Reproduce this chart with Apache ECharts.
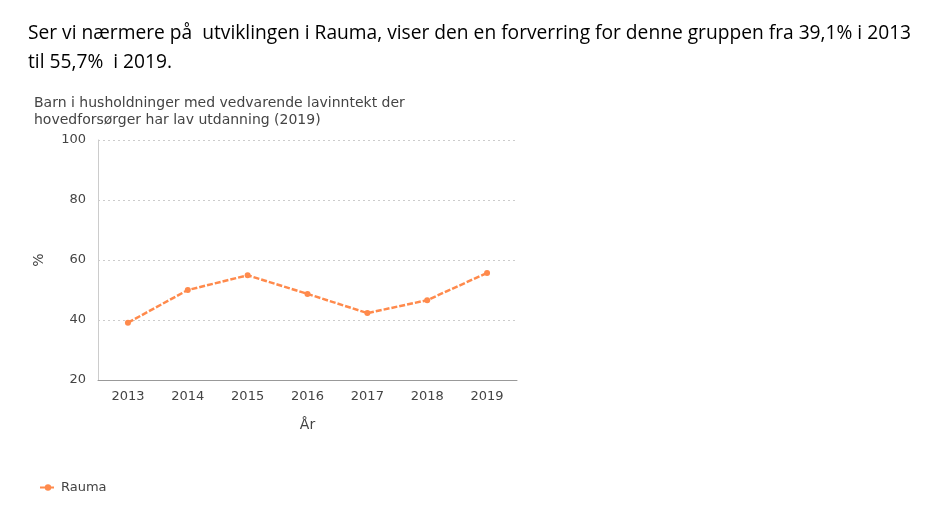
<!DOCTYPE html>
<html><head><meta charset="utf-8">
<script src="https://cdn.jsdelivr.net/npm/echarts@6/dist/echarts.min.js"></script>
<style>
body{margin:0;background:#fff;font-family:"Open Sans",sans-serif;}
#head{position:absolute;left:28px;top:17px;font-size:19.2px;line-height:29px;color:#000;}
#main{position:absolute;left:0;top:0;width:949px;height:520px;}
</style></head><body>
<div id="main"></div>
<div id="head">Ser vi nærmere på&nbsp; utviklingen i Rauma, viser den en forverring for denne gruppen fra 39,1% i 2013<br>til 55,7%&nbsp; i 2019.</div>
<script>
// data
var years = ['2013', '2014', '2015', '2016', '2017', '2018', '2019'];
var rauma = [39.1, 50.0, 54.9, 48.7, 42.3, 46.6, 55.7];

var chart = echarts.init(document.getElementById('main'));
var font = '"DejaVu Sans", sans-serif';
chart.setOption({
    animation: false,
    title: {
        text: 'Barn i husholdninger med vedvarende lavinntekt der\nhovedforsørger har lav utdanning (2019)',
        left: 29, top: 90,
        textStyle: {fontFamily: font, fontSize: 14, fontWeight: 'normal', color: '#444', lineHeight: 17}
    },
    legend: {
        left: 34, top: 476, itemWidth: 16, itemHeight: 8,
        textStyle: {fontFamily: font, fontSize: 13, color: '#444'},
        data: ['Rauma']
    },
    grid: {left: 98, top: 140, width: 419, height: 240},
    xAxis: {
        type: 'category', data: years, boundaryGap: true,
        name: 'År', nameLocation: 'middle', nameGap: 38,
        nameTextStyle: {fontFamily: font, fontSize: 14, color: '#444'},
        axisLine: {lineStyle: {color: '#999'}},
        axisTick: {show: false},
        axisLabel: {fontFamily: font, fontSize: 13, color: '#444', margin: 10}
    },
    yAxis: {
        type: 'value', min: 20, max: 100, interval: 20,
        name: '%', nameLocation: 'middle', nameGap: 52, nameRotate: 90,
        nameTextStyle: {fontFamily: font, fontSize: 14, color: '#444'},
        axisLine: {show: true, lineStyle: {color: '#ccc'}},
        axisLabel: {fontFamily: font, fontSize: 13, color: '#444', margin: 12},
        splitLine: {lineStyle: {color: '#ccc', type: [2, 3]}}
    },
    series: [{
        name: 'Rauma', type: 'line', data: rauma,
        symbol: 'circle', symbolSize: 6,
        itemStyle: {color: '#ff8a4c'},
        lineStyle: {color: '#ff8a4c', width: 2.5, type: [6, 2]}
    }]
});
</script>
</body></html>
